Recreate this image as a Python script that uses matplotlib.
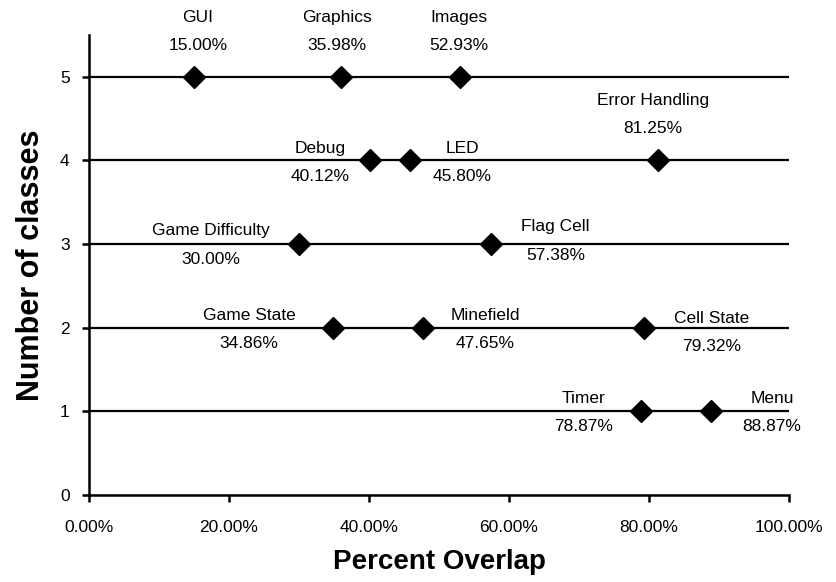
import matplotlib.pyplot as plt
from matplotlib.ticker import PercentFormatter

plt.rcParams['font.family'] = ['Liberation Sans', 'DejaVu Sans']

# feature names, percent overlap and number of classes
features = ['GUI', 'Graphics', 'Images', 'Error Handling', 'Debug', 'LED',
            'Game Difficulty', 'Flag Cell', 'Game State', 'Minefield',
            'Cell State', 'Timer', 'Menu']
overlap = [15.00, 35.98, 52.93, 81.25, 40.12, 45.80,
           30.00, 57.38, 34.86, 47.65, 79.32, 78.87, 88.87]
n_classes = [5, 5, 5, 4, 4, 4, 3, 3, 2, 2, 2, 1, 1]

x_ticks = [0, 20, 40, 60, 80, 100]
y_ticks = [0, 1, 2, 3, 4, 5]

# label offsets in pixels (dx, dy down) from the marker
label_offsets = {
    'GUI': (4, -45), 'Graphics': (-4, -45), 'Images': (-1, -45),
    'Error Handling': (-5, -46), 'Debug': (-50, 2), 'LED': (53, 2),
    'Game Difficulty': (-88, 1), 'Flag Cell': (65, -3),
    'Game State': (-84, 2), 'Minefield': (63, 2), 'Cell State': (67, 5),
    'Timer': (-58, 1), 'Menu': (61, 1),
}

fig = plt.figure(figsize=(8.37, 5.82), dpi=100)
ax = fig.add_axes([89 / 837, 87 / 582, 700 / 837, 460 / 582])

# horizontal lines for each class count
for y in y_ticks[1:]:
    ax.plot([0, 100], [y, y], color='black', lw=1.6, zorder=1)

ax.plot(overlap, n_classes, linestyle='none', marker='D', markersize=11,
        color='black', zorder=3, clip_on=False)

for name, x, y in zip(features, overlap, n_classes):
    dx, dy = label_offsets[name]
    ax.annotate(f'{name}\n{x:.2f}%', (x, y), xytext=(dx * 0.72, -dy * 0.72),
                textcoords='offset points', ha='center', va='center',
                fontsize=12.5, linespacing=2.1)

ax.set_xlim(0, 100)
ax.set_ylim(0, 5.5)
ax.set_xticks(x_ticks)
ax.set_yticks(y_ticks)
ax.xaxis.set_major_formatter(PercentFormatter(100, decimals=2))

for side in ['top', 'right']:
    ax.spines[side].set_visible(False)
for side in ['left', 'bottom']:
    ax.spines[side].set_linewidth(1.8)
ax.tick_params(axis='x', direction='out', length=5, width=1.8, labelsize=12.5, pad=13)
ax.tick_params(axis='y', direction='out', length=5, width=1.8, labelsize=12.5, pad=9)

ax.set_xlabel('Percent Overlap', fontsize=20, fontweight='bold', labelpad=10)
ax.set_ylabel('Number of classes', fontsize=22, fontweight='bold', labelpad=10)

fig.savefig('out.png', dpi=100)
